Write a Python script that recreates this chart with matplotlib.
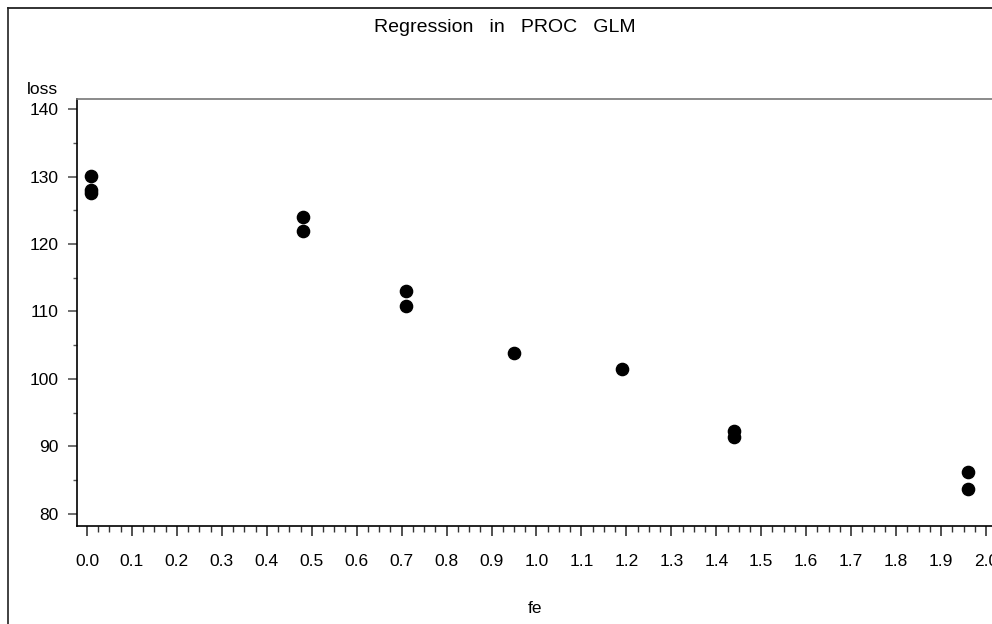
import matplotlib
matplotlib.use("Agg")
import matplotlib.pyplot as plt
from matplotlib.lines import Line2D
from matplotlib.ticker import MultipleLocator

# corrosion data: iron content vs weight loss
fe = [0.01, 0.48, 0.71, 0.95, 1.19, 0.01, 0.48, 1.44, 0.71, 1.96, 0.01, 1.44, 1.96]
loss = [127.6, 124.0, 110.8, 103.9, 101.5, 130.1, 122.0, 92.3, 113.1, 83.7, 128.0, 91.4, 86.2]

x_ticks = [i / 10 for i in range(21)]
x_ticklabels = [f"{t:.1f}" for t in x_ticks]
y_ticks = [80, 90, 100, 110, 120, 130, 140]

plt.rcParams["font.family"] = ["Liberation Sans", "DejaVu Sans"]

W, H = 992, 624
fig = plt.figure(figsize=(W / 100, H / 100), dpi=100)

# outer frame (left and top edges visible)
fig.add_artist(Line2D([8 / W, 8 / W], [0, 1 - 8 / H], color="#333333", lw=1.3))
fig.add_artist(Line2D([8 / W, 1], [1 - 8 / H, 1 - 8 / H], color="#222222", lw=1.3))

left, right = 77, 996
top, bottom = 99, 526
ax = fig.add_axes([left / W, 1 - bottom / H, (right - left) / W, (bottom - top) / H])

ax.plot(fe, loss, "o", color="black", markersize=8.8, clip_on=False)

ax.set_xlim(-0.0222, 2.0222)
ax.set_ylim(78.2, 141.5)
ax.set_xticks(x_ticks)
ax.set_xticklabels(x_ticklabels)
ax.xaxis.set_minor_locator(MultipleLocator(0.025))
ax.set_yticks(y_ticks)
ax.yaxis.set_minor_locator(MultipleLocator(5))

ax.tick_params(axis="x", which="major", direction="out", length=7.5, width=1.2,
               pad=12.5, labelsize=12.5, color="#333333")
ax.tick_params(axis="x", which="minor", direction="out", length=4.3, width=1.0,
               color="#333333")
ax.tick_params(axis="y", which="major", direction="out", length=6.5, width=1.2,
               pad=6.5, labelsize=12.5, color="#555555")
ax.tick_params(axis="y", which="minor", direction="out", length=3, width=1.0,
               color="#555555")

ax.spines["left"].set_color("black")
ax.spines["bottom"].set_color("black")
ax.spines["top"].set_color("#777777")
ax.spines["right"].set_color("#777777")
for s in ax.spines.values():
    s.set_linewidth(1.2)

fig.text(505 / W, 1 - 32 / H, "Regression   in   PROC   GLM", ha="center", va="baseline", fontsize=14)
fig.text(27 / W, 1 - 94 / H, "loss", ha="left", va="baseline", fontsize=12.5)
fig.text(535 / W, 1 - 613 / H, "fe", ha="center", va="baseline", fontsize=12.5)

fig.savefig("out.png", dpi=100)
